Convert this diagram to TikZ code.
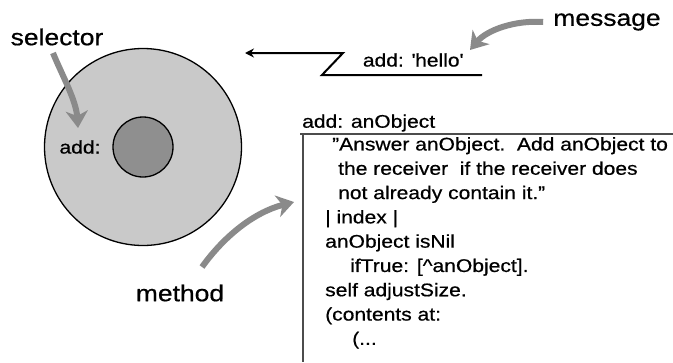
\documentclass[tikz,border=0pt]{standalone}
\usepackage{fontspec}
\setmainfont{Liberation Sans}[FakeStretch=1.15, FakeBold=0.6]
\usetikzlibrary{arrows.meta}
\definecolor{discgray}{gray}{0.79}
\definecolor{coregray}{gray}{0.56}
\definecolor{pointgray}{gray}{0.54}
\definecolor{boxgray}{gray}{0.3}
\tikzset{
  label/.style={font=\fontsize{23}{26}\selectfont, inner sep=0pt},
  code/.style={font=\fontsize{18.3}{24.3}\selectfont, inner sep=0pt},
  pointer/.style={pointgray, line width=6pt, -{Stealth[length=17pt, width=22pt, inset=5pt]}},
  boxline/.style={boxgray, line width=2.5pt}
}
\begin{document}
\begin{tikzpicture}[x=1pt, y=-1pt]
      \useasboundingbox (0, 0) rectangle (673, 362);
      \node [circle, draw, line width=1.3pt, fill=discgray, minimum size=197pt] (disc) at (143, 147) {};
      \node [circle, draw, line width=1.3pt, fill=coregray, minimum size=60pt] (core) at (143, 147) {};
      \node [code] (sel) at (80, 147) {add:};
      \node [label] (selector) at (57, 37) {selector};
      \node [label] (message) at (607, 22) {message};
      \node [label] (method) at (180, 293) {method};
      \node [code] (hello) at (413, 60) {add: \textquotesingle hello\textquotesingle};
      % the send
      \coordinate (tail) at (482, 75);
      \coordinate (zag) at (322, 75);
      \coordinate (zig) at (343, 53);
      \coordinate (rcv) at (245, 53);
      \draw [line width=2pt, -{Stealth[length=9pt, width=9pt]}] (tail) -- (zag) -- (zig) -- (rcv);
      % the method
      \node [code, anchor=west] (head) at (302, 123) {add: anObject};
      \coordinate (corner) at (303, 134);
      \draw [boxline] (300, 134) -- (673, 134);
      \draw [boxline] (corner) -- (303, 362);
      \node [code, anchor=north west, align=left] (body) at (325, 137) {%
        \hspace{7pt}"Answer anObject.\ \ Add anObject to\\
        \hspace{13pt}the receiver\ \ if the receiver does\\
        \hspace{13pt}not already contain it."\\
        | index |\\
        anObject isNil\\
        \hspace{25pt}ifTrue: [\textasciicircum anObject].\\
        self adjustSize.\\
        (contents at:\\
        \hspace{27pt}(...};
      % pointers
      \draw [pointer] (selector) ++(-4, 16) .. controls (62, 75) and (76, 100) .. (78, 128);
      \draw [pointer] (message.west) ++(-10, 0) .. controls (515, 20) and (487, 30) .. (470, 50);
      \draw [pointer] (method) ++(22, -26) .. controls (225, 235) and (255, 212) .. (294, 202);
    \end{tikzpicture}
\end{document}
